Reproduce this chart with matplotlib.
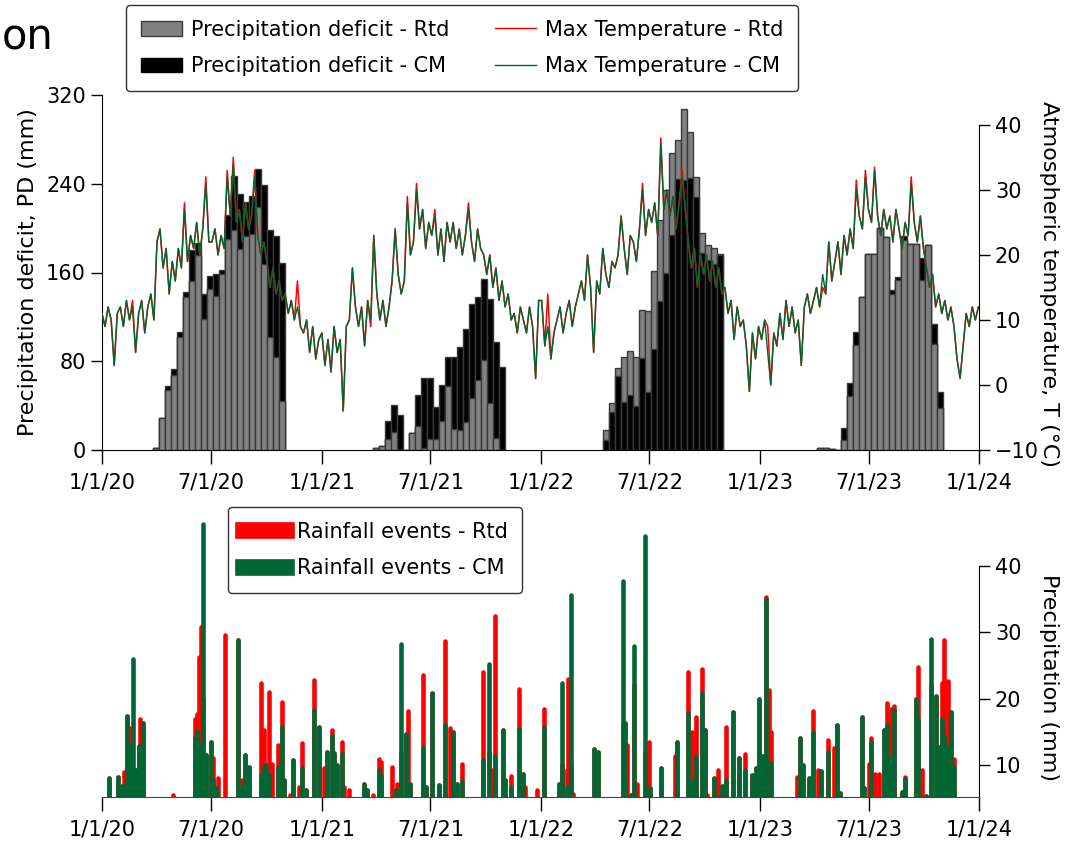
import numpy as np
import pandas as pd
import matplotlib
matplotlib.use('Agg')
import matplotlib.pyplot as plt
from matplotlib.patches import Patch
from matplotlib.lines import Line2D

plt.rcParams['font.family'] = ['DejaVu Sans']

# ---------------- data ----------------
tick_dates = ['2020-01-01', '2020-07-01', '2021-01-01', '2021-07-01', '2022-01-01',
              '2022-07-01', '2023-01-01', '2023-07-01', '2024-01-01']
tick_labels = ['1/1/20', '7/1/20', '1/1/21', '7/1/21', '1/1/22',
               '7/1/22', '1/1/23', '7/1/23', '1/1/24']

# precipitation deficit (mm), 10-day bars, per season
pd_starts = ['2020-03-31', '2021-04-01', '2022-04-20', '2023-04-11']
pd_rtd = [
    [2, 29, 54, 68, 102, 138, 152, 176, 118, 145, 139, 159, 190, 198, 181, 193, 195, 219, 168, 102, 84, 44],
    [2, 4, 10, 16, 0, 0, 15, 22, 2, 10, 10, 26, 58, 19, 18, 25, 47, 63, 81, 42, 11, 0],
    [18, 42, 74, 84, 89, 84, 126, 125, 161, 207, 234, 268, 279, 307, 287, 246, 196, 185, 182, 177],
    [1.5, 1.5, 0.5, 0, 9, 49, 95, 138, 177, 177, 200, 192, 141, 153, 189, 186, 186, 153, 185, 96, 38],
]
pd_cm = [
    [2, 29, 58, 73, 106, 142, 180, 187, 141, 157, 159, 162, 212, 247, 231, 224, 229, 253, 239, 198, 193, 169],
    [2, 4, 26, 41, 32, 0, 15, 50, 65, 65, 39, 59, 84, 84, 93, 109, 132, 138, 154, 136, 97, 75],
    [9, 34, 67, 43, 50, 40, 83, 52, 91, 134, 160, 194, 244, 243, 245, 228, 178, 171, 168, 176],
    [1.5, 1.5, 0.5, 0, 20, 60, 106, 138, 177, 177, 200, 192, 144, 156, 193, 186, 186, 173, 185, 114, 52],
]

# max temperature (deg C), ~5-day readings, one row per month
temp_cm = [
    11, 9, 12, 10, 3, 11,   12, 9, 13, 10, 12, 5,   11, 13, 8, 12, 14, 10,
    22, 24, 18, 21, 14, 19,  16, 21, 18, 27, 19, 23,  21, 25, 20, 24, 31, 22,
    22, 24, 20, 23, 21, 32,  26, 34, 25, 27, 22, 28,  24, 26, 32, 23, 20, 22,
    19, 15, 18, 14, 16, 13,  14, 11, 13, 10, 12, 9,   8, 10, 5, 9, 4, 7,
    8, 3, 7, 2, 9, 5,        7, -4, 9, 10, 18, 12,   9, 12, 6, 13, 10, 23,
    14, 10, 13, 9, 12, 16,   24, 17, 14, 16, 28, 20,  22, 30, 24, 27, 21, 25,
    23, 26, 20, 24, 19, 25,  22, 25, 21, 24, 20, 23,  27, 22, 19, 24, 21, 20,
    17, 20, 15, 18, 13, 16,  12, 14, 10, 11, 8, 12,   10, 8, 12, 9, 1, 13,
    13, 6, 9, 4, 8, 10,      12, 8, 11, 13, 9, 12,    14, 16, 13, 20, 15, 5,
    16, 14, 21, 17, 15, 19,  18, 20, 26, 21, 17, 23,  22, 19, 24, 30, 23, 27,
    25, 28, 23, 37, 27, 30,  26, 29, 24, 28, 32, 27,  22, 18, 21, 15, 20, 17,
    20, 16, 19, 15, 18, 14,  15, 11, 13, 7, 12, 9,    10, 6, -1, 8, 4, 9,
    7, 10, 5, 0, 8, 6,       11, 7, 13, 9, 12, 8,     10, 3, 12, 14, 11, 13,
    15, 12, 17, 14, 22, 16,  19, 22, 17, 23, 20, 24,  21, 30, 26, 24, 32, 27,
    25, 33, 26, 23, 27, 24,  26, 22, 27, 24, 21, 25,  23, 31, 25, 22, 26, 21,
    18, 15, 17, 12, 14, 11,  13, 10, 12, 9, 4, 1,     6, 11, 9, 12, 10, 12,
]
# Rtd values where they differ from CM (index: value)
temp_rtd_diff = {27: 28, 34: 32, 41: 33, 43: 35, 50: 33, 100: 29, 103: 31, 109: 27,
                 120: 28, 177: 31, 183: 38, 190: 33, 247: 31.5, 250: 33, 253: 33.5,
                 265: 32, 10: 13, 64: 16, 88: 9, 146: 14, 218: 9, 236: 15}

# rainfall events: day since 1/1/2020, Rtd (mm), CM (mm)
rain_day = [12, 26, 33, 37, 42, 47, 52, 57, 61, 63, 68, 119, 155, 159, 162, 165, 168, 174,
            181, 185, 190, 194, 205, 226, 234, 239, 245, 265, 270, 274, 279, 283, 293, 300,
            303, 314, 319, 328, 333, 340, 354, 361,
            370, 375, 383, 386, 392, 399, 403, 411, 436, 441, 451, 461, 465, 483, 489, 492,
            498, 507, 510, 513, 534, 539, 549, 561, 571, 579, 584, 592, 599, 635, 644, 650,
            654, 668, 672, 682, 695, 701, 705, 725,
            737, 761, 766, 774, 777, 781, 785, 820, 827, 868, 872, 874, 881, 886, 891, 905,
            911, 913, 932, 955, 958, 977, 983, 990, 999, 1004, 1008, 1020, 1026, 1033, 1040,
            1051, 1061, 1072, 1083, 1090, 1095,
            1101, 1106, 1111, 1115, 1158, 1163, 1168, 1178, 1185, 1192, 1198, 1209, 1219,
            1224, 1229, 1266, 1270, 1277, 1281, 1287, 1295, 1303, 1307, 1314, 1320, 1333,
            1338, 1356, 1360, 1366, 1372, 1381, 1389, 1394, 1400, 1403, 1409, 1414, 1419]
rain_rtd = [8.0, 8.2, 6.8, 9.0, 17.4, 15.5, 0, 9.2, 12.8, 17.0, 16.3, 5.5, 17.0, 17.7, 26.3, 30.7, 20, 11.5,
            13.4, 11.0, 6.5, 8.0, 29.5, 28.8, 7.8, 11.5, 9.7, 22.3, 15.3, 10.0, 21.0, 10.2, 13.0, 19.5,
            7.7, 5.5, 10.8, 6.7, 13.3, 6.2, 22.8, 15.8,
            9.5, 12.0, 15.2, 11.8, 10.0, 13.4, 6.7, 6.2, 7.2, 6.2, 5.5, 10.9, 10.5, 9.7, 6.2, 7.2,
            12, 14.7, 18.2, 7.2, 23.5, 6.7, 20.8, 7.0, 28.7, 15.5, 14.9, 7.2, 10.2, 24.0, 12, 9.2,
            32.4, 15.2, 7.7, 8.3, 21.5, 8.7, 6.7, 6.2,
            18.5, 7.1, 10, 9.3, 23.0, 10, 5.6, 12.4, 11.9, 16, 16.3, 13.0, 5.5, 22, 7.1, 12,
            13.4, 6.5, 9.5, 11.3, 13.4, 24.0, 15.0, 17.2, 24.5, 15.2, 5.5, 8.0, 9.3, 6.9, 15.8,
            18.0, 11.0, 11.6, 8.5, 9.6, 20.0,
            11.3, 35.3, 21.3, 14.9, 8.2, 14.0, 10.0, 8.0, 18.2, 9.3, 9.1, 13.8, 12.5,
            16.0, 5.8, 17.3, 6.5, 10.2, 14.0, 8.7, 8.7, 15.3, 19.3, 18.4, 18.9, 6.0,
            8.2, 19.9, 24.7, 9.2, 5.4, 22, 20.4, 12.7, 22.3, 28.8, 22.7, 18.0, 10.9]
rain_cm = [8.0, 8.2, 6.8, 6.8, 17.4, 12.8, 25.9, 9.2, 12.8, 9.2, 16.3, 0, 14.0, 15.1, 13, 0, 46.3, 11.5,
           13.4, 7.7, 6.5, 0, 0, 28.8, 6.7, 11.5, 9.7, 8.7, 9.7, 10.0, 8.5, 0, 9.7, 15.8,
           7.7, 0, 10.8, 0, 9.5, 6.2, 18.3, 15.8,
           0, 12.0, 14.4, 11.8, 10.0, 11.8, 0, 0, 7.2, 6.2, 0, 9.3, 8.3, 0, 6.2, 0,
           28.2, 14.7, 0, 7.2, 12.5, 6.7, 20.8, 7.0, 16.0, 0, 14.9, 7.2, 7.6, 10.7, 25.2, 0,
           11.3, 15.2, 7.7, 6.7, 15.4, 8.7, 0, 0,
           15.7, 7.1, 22.3, 6.7, 0, 35.6, 0, 12.4, 11.9, 37.7, 16.3, 0, 5.5, 27.9, 0, 44.4,
           0, 6.5, 9.5, 0, 13.4, 17.8, 7.6, 11.3, 20.8, 15.2, 0, 8.0, 0, 6.9, 7.7,
           18.0, 11.0, 9.3, 8.5, 9.6, 20.0,
           11.3, 34.9, 0, 10.25, 0, 14.0, 10.0, 8.0, 14.9, 0, 9.1, 12.0, 0,
           16.0, 5.8, 17.3, 6.5, 0, 13.5, 0, 0, 15.3, 16.0, 11.2, 18.3, 6.0,
           7.9, 19.9, 17.0, 0, 5.4, 29.0, 20.4, 12.7, 17.0, 14.3, 12.7, 18.0, 9.75]

# ---------------- figure ----------------
W, H = 1068, 848
fig = plt.figure(figsize=(W / 100, H / 100), dpi=100)
ax = fig.add_axes([102 / W, 1 - 450 / H, 877 / W, 355 / H])
axt = ax.twinx()
axb = fig.add_axes([102 / W, 1 - 797 / H, 877 / W, 282 / H])

FS = 15
GREEN = '#006633'
GREY = '#808080'
EDGE = '#3a3a3a'

# precipitation deficit bars (shorter bar in front)
for start, r, c in zip(pd_starts, pd_rtd, pd_cm):
    d = pd.date_range(start, periods=len(r), freq='10D')
    r = np.array(r, float)
    c = np.array(c, float)
    ax.bar(d, r, width=10, color=GREY, edgecolor=EDGE, linewidth=1, zorder=2)
    ax.bar(d, c, width=10, color='black', edgecolor=EDGE, linewidth=1, zorder=3)
    front = r <= c
    ax.bar(d[front], r[front], width=10, color=GREY, edgecolor=EDGE, linewidth=1, zorder=4)

# temperature lines
t_dates = pd.date_range('2020-01-01', '2023-12-31', periods=len(temp_cm))
temp_rtd = list(temp_cm)
for i, v in temp_rtd_diff.items():
    temp_rtd[i] = v
axt.plot(t_dates, temp_rtd, color='red', lw=1.1)
axt.plot(t_dates, temp_cm, color=GREEN, lw=1.0)

x0, x1 = pd.Timestamp('2020-01-01'), pd.Timestamp('2024-01-01')
ax.set_xlim(x0, x1)
ax.set_ylim(0, 320)
axt.set_ylim(-10, 44.6)
ax.set_yticks([0, 80, 160, 240, 320])
axt.set_yticks([-10, 0, 10, 20, 30, 40])
ax.set_xticks(pd.to_datetime(tick_dates))
ax.set_xticklabels(tick_labels)

for s in ['top', 'right']:
    ax.spines[s].set_visible(False)
for s in ['top', 'left', 'bottom']:
    axt.spines[s].set_visible(False)
ax.spines['left'].set_bounds(0, 320)
axt.spines['right'].set_bounds(-10, 40)
ax.tick_params(axis='both', direction='out', length=8, width=1, labelsize=FS)
ax.tick_params(axis='x', length=10, pad=6)
axt.tick_params(axis='y', direction='out', length=8, width=1, labelsize=FS)
ax.set_ylabel('Precipitation deficit, PD (mm)', fontsize=FS + 1, labelpad=6)

# rainfall events
rd = pd.Timestamp('2020-01-01') + pd.to_timedelta(rain_day, unit='D')
rr = np.array(rain_rtd)
rc = np.array(rain_cm)
lc1 = axb.vlines(rd[rr > 0], 0, rr[rr > 0], colors='red', linewidth=3.3)
lc1.set_capstyle('round')
lc2 = axb.vlines(rd[rc > 0], 0, rc[rc > 0], colors=GREEN, linewidth=3.3)
lc2.set_capstyle('round')

axb.set_xlim(x0, x1)
axb.set_ylim(5.2, 47.6)
axb.set_xticks(pd.to_datetime(tick_dates))
axb.set_xticklabels(tick_labels)
axb.yaxis.tick_right()
axb.set_yticks([10, 20, 30, 40])
for s in ['top', 'left']:
    axb.spines[s].set_visible(False)
axb.spines['right'].set_bounds(5.2, 40)
axb.spines['bottom'].set_color('#444444')
axb.tick_params(axis='both', direction='out', length=8, width=1, labelsize=FS)
axb.tick_params(axis='x', length=10, pad=6)

# right-hand axis titles, centred on the drawn spines
fig.text(1049 / W, 1 - 284 / H, 'Atmospheric temperature, T (°C)', fontsize=FS + 1,
         rotation=270, ha='center', va='center')
fig.text(1049 / W, 1 - 678 / H, 'Precipitation (mm)', fontsize=FS + 1,
         rotation=270, ha='center', va='center')

# legends
h_top = [Patch(facecolor=GREY, edgecolor=EDGE), Patch(facecolor='black', edgecolor='black'),
         Line2D([], [], color='red', lw=1), Line2D([], [], color=GREEN, lw=1)]
l_top = ['Precipitation deficit - Rtd', 'Precipitation deficit - CM',
         'Max Temperature - Rtd', 'Max Temperature - CM']
leg = fig.legend(h_top, l_top, loc='upper left', bbox_to_anchor=(126 / W, 1 - 5 / H),
                 ncol=2, fontsize=FS, frameon=True, borderaxespad=0, handlelength=2.0,
                 columnspacing=2.2, handletextpad=0.4, labelspacing=0.8, borderpad=0.7)
leg.get_frame().set_edgecolor('black')
leg.get_frame().set_linewidth(1)

h_bot = [Line2D([], [], color='red', lw=12), Line2D([], [], color=GREEN, lw=12)]
l_bot = ['Rainfall events - Rtd', 'Rainfall events - CM']
leg2 = fig.legend(h_bot, l_bot, loc='upper left', bbox_to_anchor=(228 / W, 1 - 507 / H),
                  fontsize=FS, frameon=True, borderaxespad=0, handlelength=2.1,
                  handletextpad=0.5, labelspacing=0.8, borderpad=0.7)
leg2.get_frame().set_edgecolor('black')
leg2.get_frame().set_linewidth(1)

fig.text(0.002, 1 - 38 / H, 'on', fontsize=30, va='center', ha='left')

fig.savefig('out.png', dpi=100)
